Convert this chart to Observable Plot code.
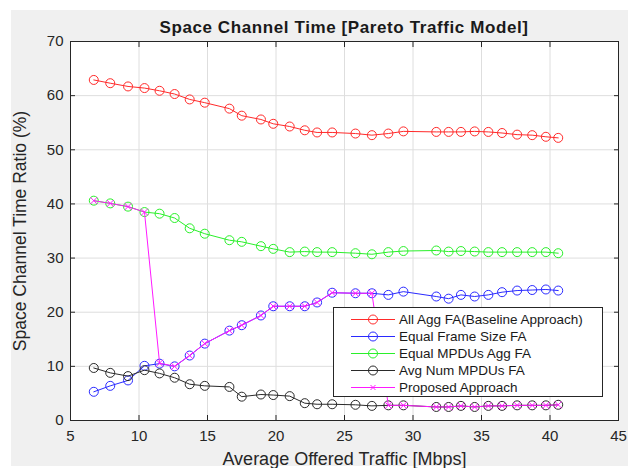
<!DOCTYPE html>
<html><head><meta charset="utf-8">
<script src="https://cdn.jsdelivr.net/npm/d3@7"></script>
<script src="https://cdn.jsdelivr.net/npm/@observablehq/plot@0.6"></script>
<style>
body{margin:0;background:#fff;font-family:"Liberation Sans",Arial,Helvetica,sans-serif;}
#wrap{position:relative;width:628px;height:468px;overflow:hidden;background:#fff;}
#bg{position:absolute;left:11px;top:10px;width:617px;height:456px;background:#f0f0f0;}
#title{position:absolute;left:70px;top:18px;width:548px;text-align:center;font-weight:bold;font-size:17px;letter-spacing:0.6px;line-height:20px;color:#1a1a1a;}
#chart{position:absolute;left:10px;top:30px;}
#legend{position:absolute;left:333px;top:307px;width:270px;height:90px;box-sizing:border-box;border:1px solid #262626;background:#fff;padding-top:3px;}
.row{display:flex;align-items:center;height:17px;}
.row svg{margin-left:17px;flex:none;}
.row span{margin-left:4px;font-size:13.5px;color:#1a1a1a;white-space:nowrap;}
</style></head>
<body>
<div id="wrap"><div id="bg"></div><div id="title">Space Channel Time [Pareto Traffic Model]</div><div id="chart"></div><div id="legend"></div></div>
<script>
const xVals = [6.7, 7.9, 9.2, 10.4, 11.5, 12.6, 13.7, 14.8, 16.6, 17.5, 18.9, 19.8, 21.0, 22.1, 23.0, 24.1, 25.8, 27.0, 28.2, 29.3, 31.7, 32.6, 33.5, 34.5, 35.5, 36.5, 37.6, 38.7, 39.7, 40.6];
const baseline = [62.9, 62.3, 61.7, 61.4, 60.9, 60.3, 59.3, 58.7, 57.6, 56.3, 55.6, 54.8, 54.3, 53.6, 53.2, 53.2, 53.0, 52.7, 53.0, 53.4, 53.3, 53.3, 53.3, 53.4, 53.3, 53.1, 52.8, 52.7, 52.4, 52.2];
const equalFrame = [5.3, 6.4, 7.4, 10.1, 10.5, 10.0, 12.0, 14.2, 16.6, 17.6, 19.4, 21.1, 21.1, 21.1, 21.8, 23.6, 23.5, 23.5, 23.2, 23.8, 22.9, 22.5, 23.2, 22.9, 23.2, 23.7, 24.0, 24.1, 24.2, 24.0];
const equalMpdu = [40.6, 40.1, 39.5, 38.5, 38.2, 37.4, 35.5, 34.5, 33.3, 33.0, 32.2, 31.7, 31.1, 31.2, 31.1, 31.1, 30.9, 30.7, 31.1, 31.3, 31.4, 31.2, 31.3, 31.2, 31.1, 31.1, 31.1, 31.1, 31.1, 30.9];
const avgNum = [9.7, 8.8, 8.2, 9.3, 8.7, 7.9, 6.7, 6.4, 6.2, 4.4, 4.8, 4.7, 4.5, 3.2, 3.0, 3.0, 2.9, 2.7, 2.8, 2.8, 2.5, 2.5, 2.7, 2.5, 2.7, 2.7, 2.8, 2.8, 2.8, 2.9];
const proposed = [40.6, 40.1, 39.5, 38.5, 10.6, 10.0, 12.0, 14.2, 16.6, 17.6, 19.4, 21.1, 21.1, 21.1, 21.8, 23.6, 23.5, 23.5, 2.8, 2.8, 2.5, 2.5, 2.7, 2.5, 2.7, 2.7, 2.8, 2.8, 2.8, 2.9];
const seriesNames = ["All Agg FA(Baseline Approach)", "Equal Frame Size FA", "Equal MPDUs Agg FA", "Avg Num MPDUs FA", "Proposed Approach"];
const seriesColors = ["#ff2a2a", "#2a2aff", "#2af02a", "#2a2a2a", "#ff1aff"];
const seriesSymbols = ["circle", "circle", "circle", "circle", "times"];
const seriesValues = [baseline, equalFrame, equalMpdu, avgNum, proposed];
const xTicks = [5, 10, 15, 20, 25, 30, 35, 40, 45];
const yTicks = [0, 10, 20, 30, 40, 50, 60, 70];
const xLabel = "Average Offered Traffic [Mbps]";
const yLabel = "Space Channel Time Ratio (%)";

const rows = [];
seriesValues.forEach((vals, s) => vals.forEach((v, i) => rows.push({series: seriesNames[s], x: xVals[i], y: v})));

const seriesMarks = seriesNames.flatMap((name, s) => {
  const d = rows.filter(r => r.series === name);
  const m = [Plot.line(d, {x: "x", y: "y", stroke: seriesColors[s], strokeWidth: 1})];
  if (seriesSymbols[s] === "circle") m.push(Plot.dot(d, {x: "x", y: "y", r: 4.5, stroke: seriesColors[s], strokeWidth: 1, fill: "none"}));
  else m.push(Plot.dot(d, {x: "x", y: "y", r: 3.2, symbol: "times", stroke: seriesColors[s], strokeWidth: 1}));
  return m;
});

const chart = Plot.plot({
  width: 618, height: 438,
  marginLeft: 60, marginRight: 10, marginTop: 11, marginBottom: 48,
  style: {background: "transparent", fontFamily: '"Liberation Sans", Arial, sans-serif', fontSize: "15px", color: "#262626"},
  x: {domain: [5, 45]},
  y: {domain: [0, 70]},
  marks: [
    Plot.frame({fill: "white", stroke: null}),
    Plot.gridX({ticks: xTicks, stroke: "#dedede", strokeOpacity: 1}),
    Plot.gridY({ticks: yTicks, stroke: "#dedede", strokeOpacity: 1}),
    Plot.axisX({ticks: xTicks, tickSize: 0, tickPadding: 10, fontSize: 15, label: null}),
    Plot.axisY({ticks: yTicks, tickSize: 0, tickPadding: 7, fontSize: 15, label: null}),
    Plot.axisX({ticks: [], tickSize: 0, label: xLabel, labelAnchor: "center", labelArrow: "none", labelOffset: 44, fontSize: 18}),
    Plot.axisY({ticks: [], tickSize: 0, label: yLabel, labelAnchor: "center", labelArrow: "none", labelOffset: 57, fontSize: 17.5}),
    Plot.axisX({anchor: "bottom", ticks: xTicks, tickSize: -5, tickFormat: () => "", label: null}),
    Plot.axisX({anchor: "top", ticks: xTicks, tickSize: -5, tickFormat: () => "", label: null}),
    Plot.axisY({anchor: "left", ticks: yTicks, tickSize: -5, tickFormat: () => "", label: null}),
    Plot.axisY({anchor: "right", ticks: yTicks, tickSize: -5, tickFormat: () => "", label: null}),
    ...seriesMarks,
    Plot.frame({stroke: "#262626", strokeWidth: 1})
  ]
});
document.getElementById("chart").appendChild(chart);

const legend = document.getElementById("legend");
seriesNames.forEach((name, s) => {
  const row = document.createElement("div");
  row.className = "row";
  const ns = "http://www.w3.org/2000/svg";
  const svg = document.createElementNS(ns, "svg");
  svg.setAttribute("width", 44); svg.setAttribute("height", 17);
  const ln = document.createElementNS(ns, "line");
  ln.setAttribute("x1", 0); ln.setAttribute("x2", 44); ln.setAttribute("y1", 8.5); ln.setAttribute("y2", 8.5);
  ln.setAttribute("stroke", seriesColors[s]); ln.setAttribute("stroke-width", 1);
  svg.appendChild(ln);
  if (seriesSymbols[s] === "circle") {
    const c = document.createElementNS(ns, "circle");
    c.setAttribute("cx", 22); c.setAttribute("cy", 8.5); c.setAttribute("r", 4.5);
    c.setAttribute("fill", "none"); c.setAttribute("stroke", seriesColors[s]);
    svg.appendChild(c);
  } else {
    const p = document.createElementNS(ns, "path");
    p.setAttribute("d", "M19.5,6L24.5,11M24.5,6L19.5,11");
    p.setAttribute("stroke", seriesColors[s]);
    svg.appendChild(p);
  }
  row.appendChild(svg);
  const sp = document.createElement("span");
  sp.textContent = name;
  row.appendChild(sp);
  legend.appendChild(row);
});
</script>
</body></html>
